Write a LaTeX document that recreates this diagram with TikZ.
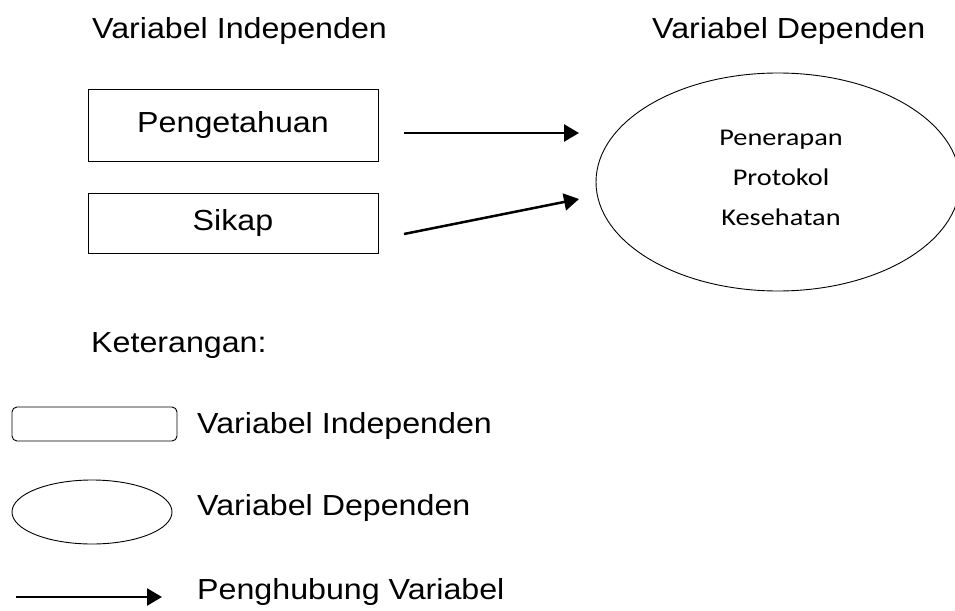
\documentclass[tikz,border=0pt]{standalone}
\usepackage{fontspec}
\setmainfont{Liberation Sans}
\newfontfamily\calfont{Carlito}
\usetikzlibrary{arrows.meta,shapes.geometric}
\tikzset{
  lbl/.style={anchor=base west,inner sep=0pt,font=\fontsize{29}{32}\selectfont},
  varbox/.style={draw,line width=0.9pt,rectangle,minimum width=290pt,minimum height=72pt,inner sep=0pt,font=\fontsize{29}{32}\selectfont},
  conn/.style={line width=2.5pt,-{Triangle[length=15pt,width=17pt]}},
  thin/.style={draw,line width=0.9pt},
  eltext/.style={anchor=base,inner sep=0pt,font=\calfont\fontsize{24}{26}\selectfont}
}
\newcommand{\sx}[1]{\scalebox{1.11}[1]{#1}}
\begin{document}
\begin{tikzpicture}[x=1pt,y=-1pt]
\useasboundingbox (0,0) rectangle (955,610);
\node[lbl] (hi) at (92,38) {\sx{Variabel Independen}};
\node[lbl] (hd) at (652,38) {\sx{Variabel Dependen}};
\node[varbox] (pk) at (233,125) {\sx{Pengetahuan}};
\node[varbox,minimum height=60pt] (sk) at (233,223) {\sx{Sikap}};
\node[thin,ellipse,minimum width=364pt,minimum height=218pt,inner sep=0pt] (pp) at (778,182) {};
\node[eltext] (t1) at (781,145) {\scalebox{1.18}[1]{Penerapan}};
\node[eltext] (t2) at (781,185) {\scalebox{1.18}[1]{Protokol}};
\node[eltext] (t3) at (781,225) {\scalebox{1.18}[1]{Kesehatan}};
\coordinate (a1s) at (404,133);
\coordinate (a1e) at (579,133);
\coordinate (a2s) at (404,234);
\coordinate (a2e) at (579,199);
\draw[conn] (a1s) -- (a1e);
\draw[conn] (a2s) -- (a2e);
\node[lbl] (ket) at (91,352) {\sx{Keterangan:}};
\node[thin,rounded corners=5pt,minimum width=165pt,minimum height=34pt,inner sep=0pt] (lb) at (94.5,424) {};
\node[lbl] (lbt) at (197,433) {\sx{Variabel Independen}};
\node[thin,ellipse,minimum width=160pt,minimum height=64pt,inner sep=0pt] (le) at (92,512) {};
\node[lbl] (let) at (197,515) {\sx{Variabel Dependen}};
\coordinate (las) at (16,597);
\coordinate (lae) at (162,597);
\draw[conn] (las) -- (lae);
\node[lbl] (lat) at (197,599) {\sx{Penghubung Variabel}};
\end{tikzpicture}
\end{document}
